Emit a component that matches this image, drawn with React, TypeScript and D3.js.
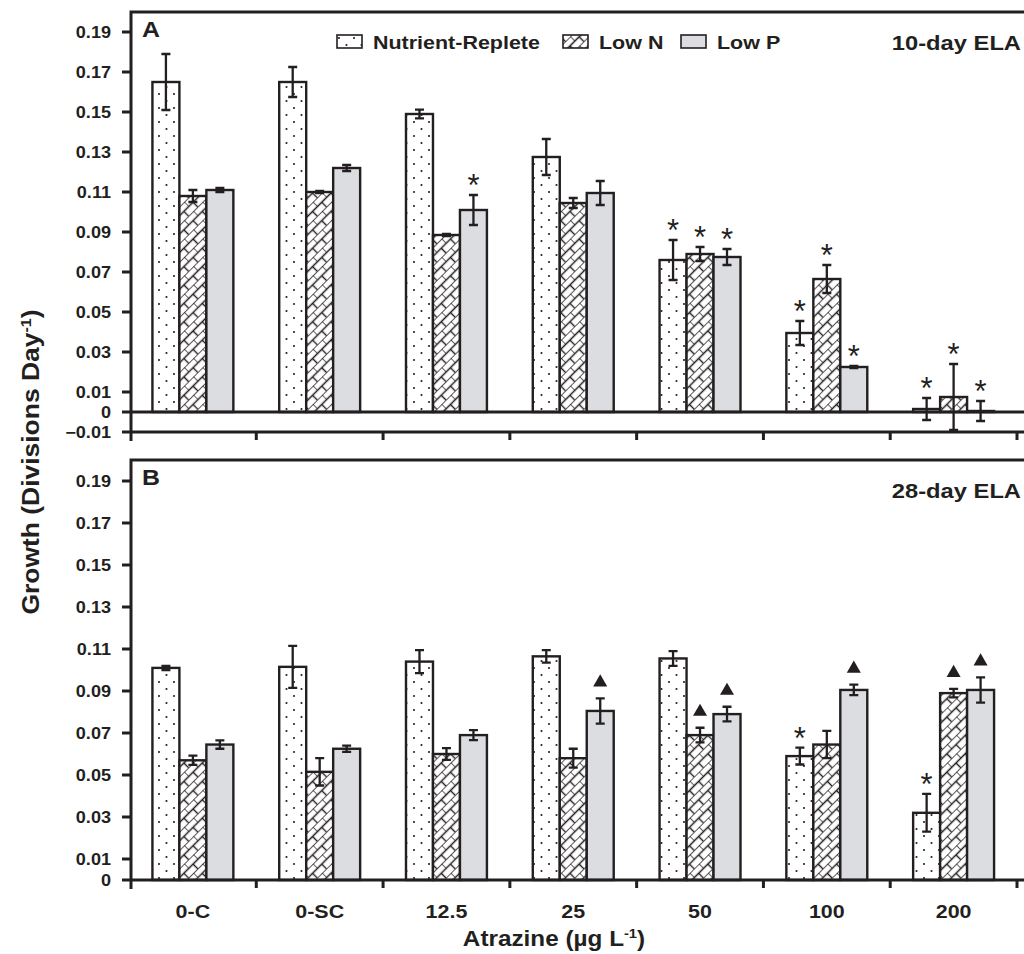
import React, { useEffect, useRef } from 'react';
import * as d3 from 'd3';

const categories = ['0-C', '0-SC', '12.5', '25', '50', '100', '200'];
const seriesNames = ['Nutrient-Replete', 'Low N', 'Low P'];

// Panel A - 10-day ELA
const replete10 = [0.165, 0.165, 0.149, 0.1275, 0.076, 0.0395, 0.0015];
const replete10Err = [0.014, 0.0075, 0.0022, 0.009, 0.0100, 0.006, 0.0055];
const lowN10 = [0.108, 0.110, 0.0885, 0.1045, 0.079, 0.0665, 0.0075];
const lowN10Err = [0.003, 0.0005, 0.0005, 0.0025, 0.0035, 0.007, 0.0165];
const lowP10 = [0.111, 0.122, 0.101, 0.1095, 0.0775, 0.0225, 0.0005];
const lowP10Err = [0.001, 0.0015, 0.0075, 0.006, 0.004, 0.0005, 0.005];
const sigReplete10 = ['', '', '', '', '*', '*', '*'];
const sigLowN10 = ['', '', '', '', '*', '*', '*'];
const sigLowP10 = ['', '', '*', '', '*', '*', '*'];

// Panel B - 28-day ELA
const replete28 = [0.101, 0.1015, 0.104, 0.1065, 0.1055, 0.059, 0.032];
const replete28Err = [0.001, 0.010, 0.0055, 0.003, 0.0035, 0.004, 0.009];
const lowN28 = [0.057, 0.0515, 0.060, 0.058, 0.069, 0.0645, 0.089];
const lowN28Err = [0.0022, 0.0065, 0.0028, 0.0045, 0.0035, 0.0065, 0.002];
const lowP28 = [0.0645, 0.0625, 0.069, 0.0805, 0.079, 0.0905, 0.0905];
const lowP28Err = [0.002, 0.0015, 0.0024, 0.006, 0.0035, 0.0025, 0.006];
const sigReplete28 = ['', '', '', '', '', '*', '*'];
const sigLowN28 = ['', '', '', '', 'tri', '', 'tri'];
const sigLowP28 = ['', '', '', 'tri', 'tri', 'tri', 'tri'];

const yTicksA = [-0.01, 0, 0.01, 0.03, 0.05, 0.07, 0.09, 0.11, 0.13, 0.15, 0.17, 0.19];
const yTicksB = [0, 0.01, 0.03, 0.05, 0.07, 0.09, 0.11, 0.13, 0.15, 0.17, 0.19];

const INK = '#231f20';
const GREY = '#dcdde0';
const FONT = '"Liberation Sans", Arial, sans-serif';
const SX = 1.13; // reference text is a little wider than Arial

const fills = ['url(#dots)', 'url(#brick)', GREY];

type Sel = d3.Selection<any, unknown, null, undefined>;

function addText(g: Sel, x: number, y: number, str: string, size: number, anchor = 'start', weight = 'bold') {
  return g.append('text')
    .attr('transform', `translate(${x},${y}) scale(${SX},1)`)
    .attr('text-anchor', anchor)
    .attr('font-family', FONT)
    .attr('font-weight', weight)
    .attr('font-size', size)
    .attr('fill', INK)
    .text(str);
}

interface PanelCfg {
  top: number;
  bottom: number;
  domain: [number, number];
  ticks: number[];
  values: number[][];
  errors: number[][];
  sig: string[][];
  letter: string;
  title: string;
  zeroLine: boolean;
}

const App: React.FC = () => {
  const svgRef = useRef<SVGSVGElement>(null);

  useEffect(() => {
    if (!svgRef.current) return;
    const svg = d3.select(svgRef.current);
    svg.selectAll('*').remove();

    const left = 131;
    const right = 1032;

    // Patterns
    const defs = svg.append('defs');
    const dots = defs.append('pattern')
      .attr('id', 'dots').attr('patternUnits', 'userSpaceOnUse')
      .attr('width', 15).attr('height', 14);
    dots.append('rect').attr('width', 15).attr('height', 14).attr('fill', '#fff');
    dots.append('circle').attr('cx', 1.5).attr('cy', 3).attr('r', 1.05).attr('fill', INK);
    dots.append('circle').attr('cx', 9).attr('cy', 10).attr('r', 1.05).attr('fill', INK);

    const brick = defs.append('pattern')
      .attr('id', 'brick').attr('patternUnits', 'userSpaceOnUse')
      .attr('width', 13).attr('height', 13)
      .attr('patternTransform', 'rotate(-45)');
    brick.append('rect').attr('width', 13).attr('height', 13).attr('fill', '#fff');
    brick.append('path')
      .attr('d', 'M0,0H13M0,6.5H13M0,0V6.5M6.5,6.5V13')
      .attr('stroke', INK).attr('stroke-width', 1.4).attr('fill', 'none');

    const x = d3.scaleBand<string>().domain(categories).range([129.5, 1017]).padding(0);
    const xs = d3.scaleBand<string>().domain(seriesNames)
      .range([0, x.step()]).paddingInner(0).paddingOuter(0.85);

    const drawPanel = (cfg: PanelCfg) => {
      const y = d3.scaleLinear().domain(cfg.domain).range([cfg.bottom, cfg.top]);
      const g = svg.append('g');

      // bars
      seriesNames.forEach((s, si) => {
        g.append('g').selectAll('rect')
          .data(categories)
          .enter()
          .append('rect')
          .attr('x', c => x(c)! + xs(s)!)
          .attr('width', xs.bandwidth())
          .attr('y', (c, i) => y(Math.max(0, cfg.values[si][i])))
          .attr('height', (c, i) => Math.abs(y(cfg.values[si][i]) - y(0)))
          .attr('fill', fills[si])
          .attr('stroke', INK)
          .attr('stroke-width', 2.4);
      });

      // error bars + significance marks
      seriesNames.forEach((s, si) => {
        categories.forEach((c, i) => {
          const cx = x(c)! + xs(s)! + xs.bandwidth() / 2;
          const v = cfg.values[si][i];
          const e = cfg.errors[si][i];
          const y1 = y(v + e);
          const y2 = y(v - e);
          g.append('path')
            .attr('d', `M${cx},${y1}V${y2}M${cx - 4.5},${y1}H${cx + 4.5}M${cx - 4.5},${y2}H${cx + 4.5}`)
            .attr('stroke', INK).attr('stroke-width', 2.3).attr('fill', 'none');
          const mark = cfg.sig[si][i];
          if (mark === '*') {
            g.append('text')
              .attr('x', cx).attr('y', y1 + 1)
              .attr('text-anchor', 'middle')
              .attr('font-family', FONT)
              .attr('font-size', 31)
              .attr('fill', INK)
              .text('*');
          } else if (mark === 'tri') {
            g.append('path')
              .attr('transform', `translate(${cx},${y1 - 16})`)
              .attr('d', d3.symbol(d3.symbolTriangle, 85)()!)
              .attr('fill', INK);
          }
        });
      });

      // frame
      const frame = g.append('g').attr('stroke', INK).attr('stroke-width', 3).attr('fill', 'none');
      frame.append('path').attr('d', `M${left},${cfg.bottom + 9}V${cfg.top}H${right}`);
      frame.append('path').attr('d', `M${left},${cfg.bottom}H${right}`);
      if (cfg.zeroLine) frame.append('path').attr('d', `M${left},${y(0)}H${right}`);

      // y ticks
      cfg.ticks.forEach(t => {
        frame.append('path').attr('d', `M${left - 9},${y(t)}H${left}`);
        addText(g, 111, y(t) + 6, t === 0 ? '0' : d3.format('.2f')(t), 16, 'end');
      });
      // x ticks at category boundaries
      categories.forEach(c => {
        const bx = x(c)! + x.step();
        frame.append('path').attr('d', `M${bx},${cfg.bottom}V${cfg.bottom + 8}`);
      });

      addText(g, 142, cfg.top + 25, cfg.letter, 22);
      addText(g, 1021, cfg.top + 38, cfg.title, 21, 'end');
      return y;
    };

    drawPanel({
      top: 12, bottom: 432, domain: [-0.01, 0.2], ticks: yTicksA,
      values: [replete10, lowN10, lowP10],
      errors: [replete10Err, lowN10Err, lowP10Err],
      sig: [sigReplete10, sigLowN10, sigLowP10],
      letter: 'A', title: '10-day ELA', zeroLine: true
    });
    drawPanel({
      top: 460, bottom: 880, domain: [0, 0.2], ticks: yTicksB,
      values: [replete28, lowN28, lowP28],
      errors: [replete28Err, lowN28Err, lowP28Err],
      sig: [sigReplete28, sigLowN28, sigLowP28],
      letter: 'B', title: '28-day ELA', zeroLine: false
    });

    // legend
    const legendX = [337, 563, 681];
    const lg = svg.append('g');
    seriesNames.forEach((s, i) => {
      lg.append('rect')
        .attr('x', legendX[i]).attr('y', 35).attr('width', 25).attr('height', 13)
        .attr('fill', fills[i]).attr('stroke', INK).attr('stroke-width', 1.6);
      addText(lg, legendX[i] + 36, 49, s, 19);
    });

    // category labels
    categories.forEach(c => {
      addText(svg, x(c)! + x.step() / 2, 918, c, 19, 'middle');
    });

    // x axis title
    const xt = addText(svg, 554, 946, '', 21.5, 'middle');
    xt.append('tspan').text('Atrazine (µg L');
    xt.append('tspan').attr('dy', -8).attr('font-size', 13).text('-1');
    xt.append('tspan').attr('dy', 8).text(')');

    // y axis title
    const yt = svg.append('text')
      .attr('transform', `translate(39,462) rotate(-90) scale(1.15,1)`)
      .attr('text-anchor', 'middle')
      .attr('font-family', FONT)
      .attr('font-weight', 'bold')
      .attr('font-size', 23)
      .attr('fill', INK);
    yt.append('tspan').text('Growth (Divisions Day');
    yt.append('tspan').attr('dy', -8).attr('font-size', 14).text('-1');
    yt.append('tspan').attr('dy', 8).text(')');
  }, []);

  return (
    <svg
      ref={svgRef}
      width={1024}
      height={954}
      style={{ position: 'absolute', left: 0, top: 0, background: '#fff' }}
    />
  );
};

export default App;
